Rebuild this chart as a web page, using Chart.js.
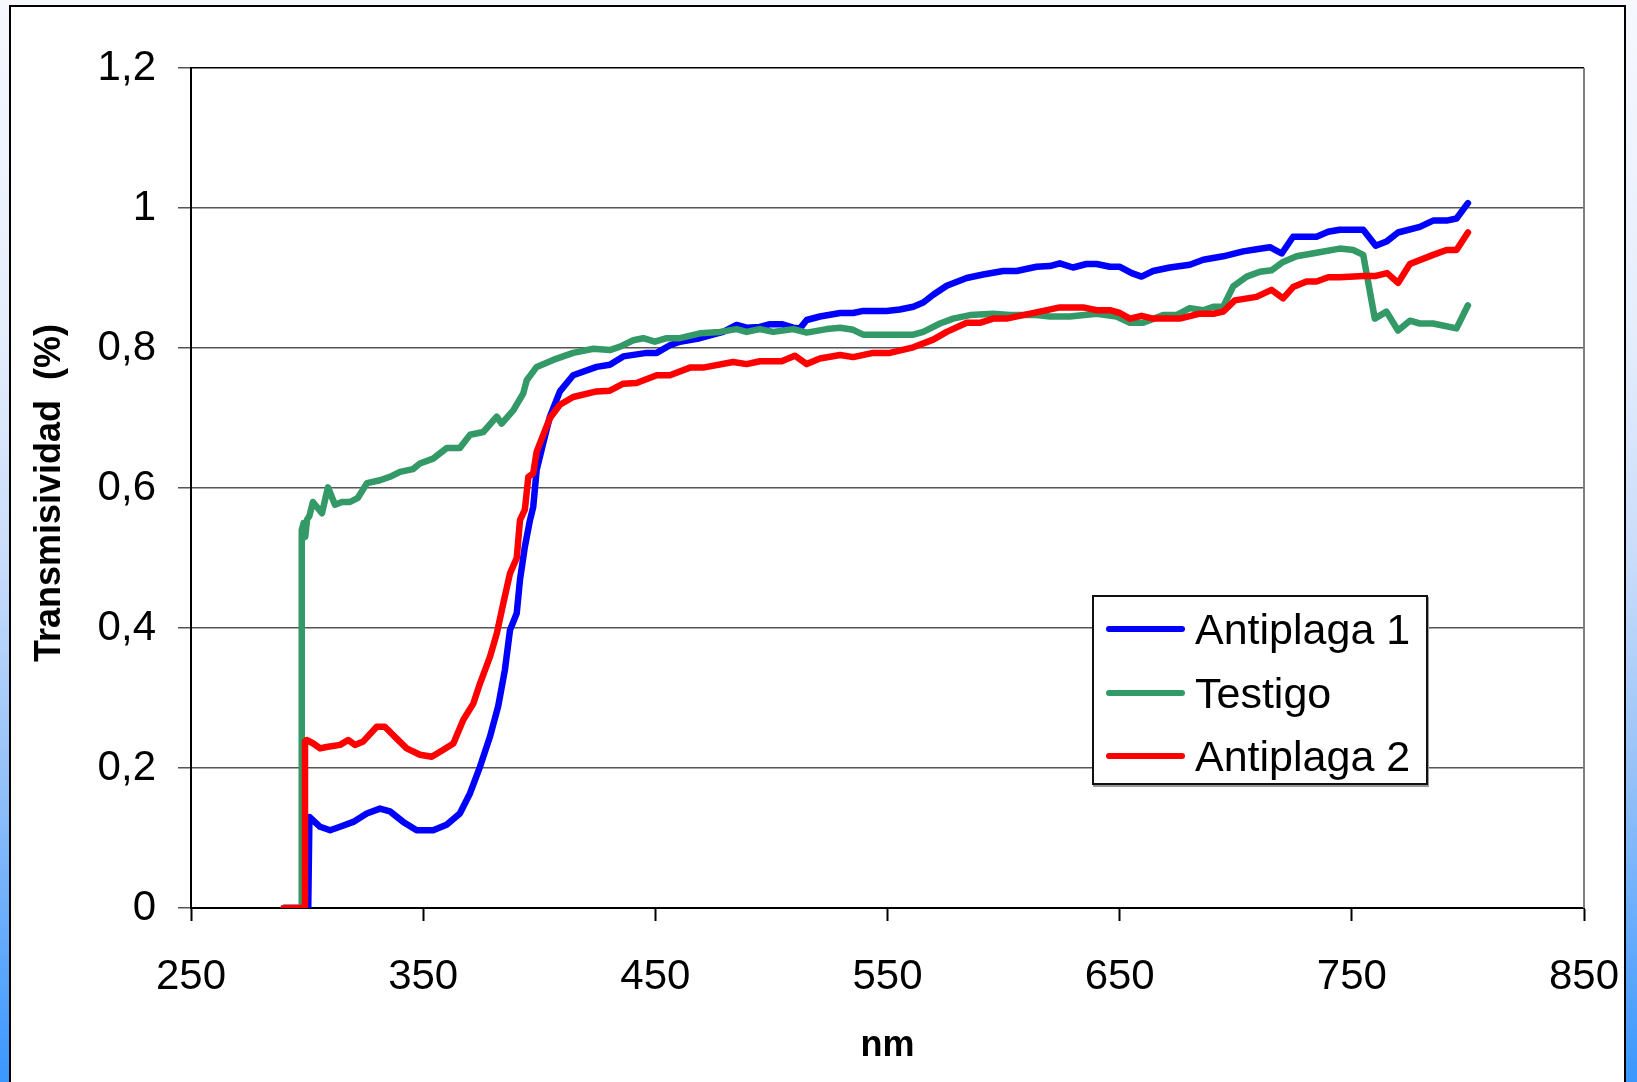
<!DOCTYPE html>
<html>
<head>
<meta charset="utf-8">
<script src="https://cdn.jsdelivr.net/npm/chart.js@4.4.0/dist/chart.umd.min.js"></script>
<style>
  html, body { margin: 0; padding: 0; width: 1637px; height: 1082px; overflow: hidden; }
  body {
    position: relative;
    font-family: "Liberation Sans", Arial, sans-serif;
    background: linear-gradient(to bottom, #f6f8fe 0%, #e6eefc 30%, #c9dcfa 52%, #94c1f9 72%, #3a97fe 100%);
  }
  #panel { position: absolute; left: 9px; top: 5px; width: 1617px; height: 1200px; background: #fff; border: 2px solid #000; box-sizing: border-box; }
  #chart { position: absolute; left: 0; top: 0; }
  #legend { position: absolute; left: 1092px; top: 595px; width: 336px; height: 190px; background: #fff; border: 2px solid #111; box-sizing: border-box; box-shadow: 1px 2px 0 #999; }
  .swatch { position: absolute; left: 12px; width: 79px; height: 6px; border-radius: 3px; }
  .label { position: absolute; left: 101px; font-size: 43px; line-height: 43px; white-space: nowrap; color: #000; }
</style>
</head>
<body>
<div id="panel"></div>
<canvas id="chart" width="1637" height="1082"></canvas>
<div id="legend"></div>
<script>
// wavelengths (nm) and transmissivity
const nmAntiplaga1 = [290, 300.5, 301, 305.6, 309.9, 314.2, 319.9, 325.7, 331.4, 335.7, 341.4, 347.2, 354.3, 360.1, 365.8, 370.2,
  374.5, 378.8, 382.3, 385.2, 387.4, 390.3, 391.7, 393.8, 396, 397.4, 398.9, 401.7, 404.6, 408.9, 414.6, 424.7, 430.4, 436.2,
  446.3, 450.6, 456.3, 460.6, 469.2, 479.2, 485, 489.3, 495, 499.4, 504.4, 509.4, 512.3, 515.2, 520.9, 529.6, 535.2, 539.5,
  549.6, 555.3, 561.1, 565.4, 569.7, 575.5, 584.1, 591.2, 599.8, 605.6, 614.2, 619.9, 624.2, 629.9, 635.7, 640.1, 645.8, 650.1,
  655.2, 659.4, 664.4, 671.6, 680.2, 686, 694.6, 703.2, 709, 714.7, 719.8, 724.7, 734.8, 739.8, 744.8, 754.9, 760.3, 764.9,
  769.9, 779.3, 785, 790.8, 795.1, 800];
const antiplaga1 = [0, 0, 0.13, 0.116, 0.111, 0.116, 0.123, 0.135, 0.142, 0.138, 0.123, 0.111, 0.111, 0.119, 0.135, 0.164,
  0.202, 0.245, 0.288, 0.34, 0.397, 0.421, 0.469, 0.516, 0.554, 0.573, 0.626, 0.664, 0.702, 0.738, 0.761, 0.773, 0.776, 0.788,
  0.793, 0.793, 0.804, 0.809, 0.814, 0.823, 0.833, 0.829, 0.83, 0.834, 0.834, 0.829, 0.828, 0.84, 0.845, 0.85, 0.85, 0.853,
  0.853, 0.855, 0.859, 0.865, 0.876, 0.889, 0.9, 0.905, 0.91, 0.91, 0.916, 0.917, 0.921, 0.915, 0.92, 0.92, 0.916, 0.916,
  0.907, 0.902, 0.91, 0.915, 0.919, 0.926, 0.931, 0.938, 0.941, 0.944, 0.935, 0.959, 0.959, 0.966, 0.969, 0.969, 0.946, 0.952,
  0.965, 0.973, 0.982, 0.982, 0.985, 1.007];

const nmTestigo = [290, 297.4, 297.7, 298.5, 299.2, 300, 301, 302.5, 306.4, 309, 312, 315, 318.5, 321.9, 325.8, 331.4, 335.7,
  340, 345.6, 348.6, 354.3, 360.1, 365.8, 370.2, 375.9, 381.7, 383.8, 388.8, 393.1, 394.6, 398.9, 406, 414.6, 423.3, 430.4,
  434.8, 440.5, 444.8, 449.8, 454.9, 460.6, 469.2, 477.8, 485, 489.3, 495, 500.8, 509.4, 515.2, 523.8, 529.6, 535.2, 539.5,
  545.3, 555.3, 561.1, 565.4, 572.6, 578.3, 585.5, 595.5, 602.7, 614.2, 619.9, 628.5, 640.1, 648.7, 654.4, 660.1, 668.7,
  674.5, 680.2, 686, 690.3, 694.6, 698.9, 704.7, 710.4, 715.4, 720.4, 726.2, 734.8, 744.8, 750.6, 754.9, 759.9, 764.9, 769.9,
  775, 779.3, 785, 795.1, 800];
const testigo = [0, 0, 0.54, 0.55, 0.53, 0.555, 0.56, 0.58, 0.564, 0.601, 0.576, 0.58, 0.58, 0.586, 0.607, 0.611, 0.616,
  0.623, 0.627, 0.635, 0.642, 0.657, 0.657, 0.676, 0.68, 0.702, 0.692, 0.711, 0.735, 0.754, 0.773, 0.783, 0.793, 0.799, 0.797,
  0.802, 0.811, 0.814, 0.809, 0.814, 0.814, 0.821, 0.823, 0.827, 0.823, 0.827, 0.823, 0.827, 0.822, 0.827, 0.829, 0.826, 0.819,
  0.819, 0.819, 0.819, 0.823, 0.835, 0.842, 0.847, 0.849, 0.847, 0.847, 0.845, 0.845, 0.849, 0.845, 0.836, 0.836, 0.847,
  0.847, 0.857, 0.854, 0.859, 0.859, 0.888, 0.902, 0.909, 0.911, 0.923, 0.931, 0.936, 0.942, 0.94, 0.933, 0.842, 0.852, 0.825,
  0.839, 0.835, 0.835, 0.828, 0.861];

const nmAntiplaga2 = [290, 298.9, 299.1, 299.8, 302.7, 305.6, 308.4, 314.2, 317.7, 320.6, 324.2, 330, 333.5, 338.6, 342.9,
  348.6, 353.7, 358.7, 363, 367.3, 371.6, 374.5, 378.8, 381.7, 384.5, 387.4, 390.3, 391.7, 393.8, 395.3, 397.4, 398.9, 401.7,
  404.6, 408.9, 414.6, 424.7, 430.4, 436.2, 441.9, 450.6, 456.3, 464.9, 470.6, 483.5, 489.3, 495, 504.4, 510.1, 515.2, 520.9,
  529.6, 535.2, 543.8, 551, 561.1, 569.7, 575.5, 584.1, 589.8, 595.5, 601.3, 608.4, 615.6, 624.2, 634.3, 640.1, 645.8, 650.1,
  654.4, 659.4, 664.4, 675.9, 684.5, 690.3, 694.6, 699.6, 708.9, 715.4, 720.4, 724.7, 730.5, 734.8, 739.8, 744.8, 754.9,
  760.3, 765.2, 769.9, 775, 785, 790.8, 795.1, 800];
const antiplaga2 = [0, 0, 0.238, 0.24, 0.235, 0.228, 0.23, 0.233, 0.24, 0.233, 0.238, 0.259, 0.259, 0.242, 0.228,
  0.219, 0.216, 0.226, 0.235, 0.269, 0.292, 0.321, 0.359, 0.392, 0.435, 0.478, 0.5, 0.554, 0.569, 0.616, 0.621, 0.652, 0.676,
  0.7, 0.719, 0.73, 0.738, 0.739, 0.749, 0.75, 0.761, 0.761, 0.772, 0.772, 0.78, 0.777, 0.781, 0.781, 0.789, 0.777, 0.785,
  0.79, 0.787, 0.793, 0.793, 0.801, 0.812, 0.823, 0.836, 0.836, 0.842, 0.842, 0.847, 0.852, 0.858, 0.858, 0.854, 0.854, 0.85,
  0.842, 0.846, 0.842, 0.842, 0.849, 0.849, 0.852, 0.868, 0.873, 0.883, 0.871, 0.887, 0.895, 0.895, 0.901, 0.901, 0.903,
  0.903, 0.907, 0.893, 0.92, 0.933, 0.94, 0.94, 0.965];

const seriesNames = ['Antiplaga 1', 'Testigo', 'Antiplaga 2'];
const seriesColors = ['#0000ff', '#339966', '#ff0000'];
const xTicks = [250, 350, 450, 550, 650, 750, 850];
const yTickLabels = ['0', '0,2', '0,4', '0,6', '0,8', '1', '1,2'];

const FONT = '"Liberation Sans", Arial, sans-serif';
const toPoints = (xs, ys) => xs.map((x, i) => ({ x: x, y: ys[i] }));

const datasets = [
  { label: seriesNames[0], data: toPoints(nmAntiplaga1, antiplaga1), borderColor: seriesColors[0], order: 2 },
  { label: seriesNames[1], data: toPoints(nmTestigo, testigo), borderColor: seriesColors[1], order: 1 },
  { label: seriesNames[2], data: toPoints(nmAntiplaga2, antiplaga2), borderColor: seriesColors[2], order: 0 },
];

// right edge of the plot box
const frame = {
  id: 'frame',
  beforeDatasetsDraw(chart) {
    const { ctx, chartArea: a } = chart;
    ctx.save();
    ctx.strokeStyle = '#808080';
    ctx.lineWidth = 2;
    ctx.beginPath();
    ctx.moveTo(a.right, a.top);
    ctx.lineTo(a.right, a.bottom);
    ctx.stroke();
    ctx.restore();
  }
};

new Chart(document.getElementById('chart').getContext('2d'), {
  type: 'line',
  data: { datasets: datasets },
  plugins: [frame],
  options: {
    responsive: false,
    animation: false,
    layout: { padding: { top: 68, right: 53, left: 0, bottom: 0 } },
    elements: {
      point: { radius: 0 },
      line: { borderWidth: 6.5, tension: 0, borderJoinStyle: 'round', borderCapStyle: 'round', fill: false }
    },
    plugins: { legend: { display: false }, tooltip: { enabled: false } },
    scales: {
      x: {
        type: 'linear',
        min: xTicks[0],
        max: xTicks[xTicks.length - 1],
        afterBuildTicks: s => { s.ticks = xTicks.map(v => ({ value: v })); },
        ticks: { color: '#000', font: { family: FONT, size: 42 }, padding: 31, maxRotation: 0 },
        grid: { drawOnChartArea: false, tickLength: 13, tickColor: '#000', tickWidth: 2 },
        border: { color: '#000', width: 2 },
        title: { display: true, text: 'nm', color: '#000', font: { family: FONT, size: 36, weight: 'bold', lineHeight: 1 }, padding: { top: 0, bottom: 18 } },
        afterFit: s => { s.height = 174; s.paddingLeft = 0; s.paddingRight = 0; }
      },
      y: {
        min: 0,
        max: 1.2,
        afterBuildTicks: s => { s.ticks = yTickLabels.map((t, i) => ({ value: i * 0.2 })); },
        ticks: { color: '#000', font: { family: FONT, size: 42 }, padding: 22, callback: (v, i) => yTickLabels[i] },
        grid: {
          color: c => (c.index === yTickLabels.length - 1 ? '#000' : '#555'),
          lineWidth: 1.5,
          tickLength: 13,
          tickColor: '#555',
          tickWidth: 1.5
        },
        border: { color: '#000', width: 2 },
        title: { display: true, text: 'Transmisividad  (%) ', color: '#000', font: { family: FONT, size: 36, weight: 'bold', lineHeight: 1 }, padding: { top: 32, bottom: 0 } },
        afterFit: s => { s.width = 191; s.paddingTop = 0; s.paddingBottom = 0; }
      }
    }
  }
});

// legend box
const legend = document.getElementById('legend');
const rowCenters = [32, 96, 159];
seriesNames.forEach((name, i) => {
  const sw = document.createElement('div');
  sw.className = 'swatch';
  sw.style.top = (rowCenters[i] - 3) + 'px';
  sw.style.background = seriesColors[i];
  legend.appendChild(sw);
  const lb = document.createElement('div');
  lb.className = 'label';
  lb.style.top = (rowCenters[i] - 21) + 'px';
  lb.textContent = name;
  legend.appendChild(lb);
});
</script>
</body>
</html>
